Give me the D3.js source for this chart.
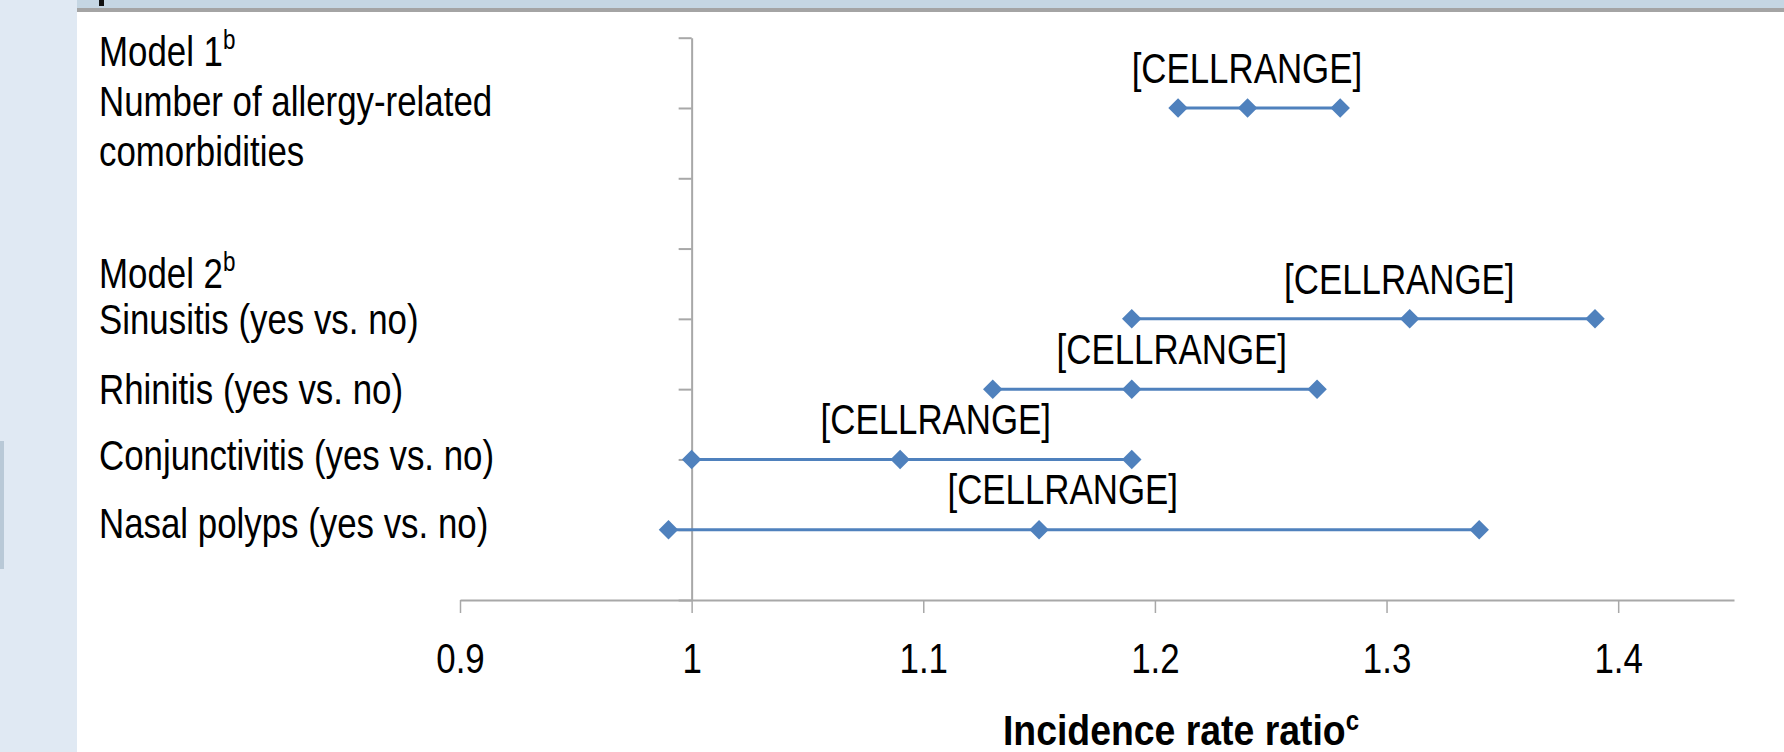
<!DOCTYPE html>
<html>
<head>
<meta charset="utf-8">
<script src="https://cdn.jsdelivr.net/npm/d3@7"></script>
<style>
  html, body { margin: 0; padding: 0; background: #ffffff; }
  svg { display: block; }
  text { font-family: "Liberation Sans", Arial, sans-serif; }
</style>
</head>
<body>
<svg id="chart" width="1784" height="752"></svg>
<script>
// ---------- data ----------
const categories = ["Number of allergy-related comorbidities", "Sinusitis (yes vs. no)", "Rhinitis (yes vs. no)", "Conjunctivitis (yes vs. no)", "Nasal polyps (yes vs. no)"];
const rowPosition = [7, 4, 3, 2, 1];           // y value of each estimate row
const lowerCI  = [1.21, 1.19, 1.13, 1.00, 0.99];
const estimate = [1.24, 1.31, 1.19, 1.09, 1.15];
const upperCI  = [1.28, 1.39, 1.27, 1.19, 1.34];
const dataLabels = ["[CELLRANGE]", "[CELLRANGE]", "[CELLRANGE]", "[CELLRANGE]", "[CELLRANGE]"];
const xTicks = [0.9, 1, 1.1, 1.2, 1.3, 1.4];
const xTickLabels = ["0.9", "1", "1.1", "1.2", "1.3", "1.4"];
const yTicks = [0, 1, 2, 3, 4, 5, 6, 7, 8];
const axisTitle = "Incidence rate ratio";
const axisTitleSup = "c";
const model1Label = "Model 1";
const model2Label = "Model 2";
const modelSup = "b";

// layout (not data): where each data label sits along the IRR axis
const labelAt = [1.2397, 1.3055, 1.2073, 1.1054, 1.1602];

// ---------- drawing ----------
const svg = d3.select("#chart");
const W = 1784, H = 752;
const NARROW = 0.83;   // emulate a narrow sans face

// background frame pieces
svg.append("rect").attr("x", 0).attr("y", 0).attr("width", W).attr("height", H).attr("fill", "#ffffff");
svg.append("rect").attr("x", 0).attr("y", 0).attr("width", 77).attr("height", H).attr("fill", "#e0e9f3");
svg.append("rect").attr("x", 0).attr("y", 441).attr("width", 4).attr("height", 128).attr("fill", "#b9c9d7");
svg.append("rect").attr("x", 77).attr("y", 0).attr("width", W - 77).attr("height", 8).attr("fill", "#c5d6e3");
svg.append("rect").attr("x", 77).attr("y", 8).attr("width", W - 77).attr("height", 4).attr("fill", "#a4a4a4");
svg.append("rect").attr("x", 99).attr("y", 0).attr("width", 5).attr("height", 6).attr("fill", "#111111");

const x = d3.scaleLinear().domain([0.9, 1.45]).range([460, 1734]);
const y = d3.scaleLinear().domain([0, 8]).range([600, 37.7]);

const axisColor = "#a8a8a8";

// x axis
const xAxis = d3.axisBottom(x)
  .tickValues(xTicks)
  .tickFormat((d, i) => xTickLabels[i])
  .tickSize(13)
  .tickSizeOuter(0)
  .tickPadding(30);
const gx = svg.append("g").attr("transform", `translate(0,${y(0)})`).call(xAxis);
gx.select(".domain").attr("stroke", axisColor).attr("stroke-width", 2);
gx.selectAll(".tick line").attr("stroke", axisColor).attr("stroke-width", 1.5);
gx.selectAll(".tick text")
  .attr("fill", "#000000")
  .attr("transform", `scale(${NARROW},1)`)
  .style("font-size", "42px")
  .style("font-family", '"Liberation Sans", Arial, sans-serif');

// y axis at x = 1
const yAxis = d3.axisLeft(y)
  .tickValues(yTicks)
  .tickFormat("")
  .tickSize(13)
  .tickSizeOuter(0);
const gy = svg.append("g").attr("transform", `translate(${x(1)},0)`).call(yAxis);
gy.select(".domain").attr("stroke", axisColor).attr("stroke-width", 2);
gy.selectAll(".tick line").attr("stroke", axisColor).attr("stroke-width", 2);

// axis title
const title = svg.append("text")
  .attr("transform", `translate(1181,745) scale(0.89,1)`)
  .attr("text-anchor", "middle")
  .attr("fill", "#000")
  .style("font-size", "42px")
  .style("font-weight", "bold");
title.append("tspan").text(axisTitle);
title.append("tspan").text(axisTitleSup).attr("dy", -15).style("font-size", "27px");

// row labels
const lab = svg.append("g").attr("fill", "#000").style("font-size", "42px");
function rowText(txt, sup, ty) {
  const t = lab.append("text")
    .attr("transform", `translate(99,${ty}) scale(${NARROW},1)`)
    .attr("dominant-baseline", "central");
  t.append("tspan").text(txt);
  if (sup) t.append("tspan").text(sup).attr("dy", -12).style("font-size", "27px");
  return t;
}
const words = categories[0].split(" ");
rowText(model1Label, modelSup, 51);
rowText(words.slice(0, 3).join(" "), null, 101);
rowText(words.slice(3).join(" "), null, 151);
rowText(model2Label, modelSup, 273);
const labelY = [null, 319, 389, 455, 523];
for (let i = 1; i < categories.length; i++) rowText(categories[i], null, labelY[i]);

// CI lines and markers
const blue = "#4f81bd";
const rows = categories.map((c, i) => ({ c, yv: rowPosition[i], lo: lowerCI[i], est: estimate[i], hi: upperCI[i], lab: dataLabels[i], la: labelAt[i] }));

svg.append("g").selectAll("line").data(rows).join("line")
  .attr("x1", d => x(d.lo)).attr("x2", d => x(d.hi))
  .attr("y1", d => y(d.yv)).attr("y2", d => y(d.yv))
  .attr("stroke", blue).attr("stroke-width", 3);

const diamond = d3.symbol().type(d3.symbolSquare).size(190);
const pts = [];
rows.forEach(r => { [r.lo, r.est, r.hi].forEach(v => pts.push({ v, yv: r.yv })); });
svg.append("g").selectAll("path").data(pts).join("path")
  .attr("d", diamond)
  .attr("transform", d => `translate(${x(d.v)},${y(d.yv)}) rotate(45)`)
  .attr("fill", blue);

// data labels
svg.append("g").selectAll("text").data(rows).join("text")
  .attr("transform", d => `translate(${x(d.la)},${y(d.yv) - 40}) scale(${NARROW},1)`)
  .attr("text-anchor", "middle")
  .attr("dominant-baseline", "central")
  .attr("fill", "#000")
  .style("font-size", "42px")
  .text(d => d.lab);
</script>
</body>
</html>
